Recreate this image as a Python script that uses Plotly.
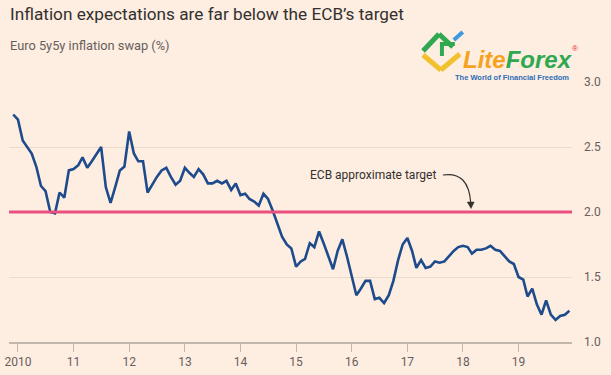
import plotly.graph_objects as go
import pandas as pd

# ---- data (monthly, Dec 2009 - Dec 2019) ----
start_month = "2009-12-01"
swap_values = [
    2.75, 2.71, 2.55, 2.50, 2.45, 2.35, 2.20, 2.16, 2.00, 1.99, 2.15, 2.11,
    2.32, 2.33, 2.36, 2.42, 2.34, 2.39, 2.45, 2.50, 2.19, 2.07, 2.19, 2.32,
    2.35, 2.62, 2.45, 2.39, 2.39, 2.15, 2.21, 2.27, 2.32, 2.34, 2.27, 2.21,
    2.24, 2.34, 2.30, 2.27, 2.33, 2.29, 2.22, 2.22, 2.24, 2.22, 2.24, 2.17,
    2.22, 2.13, 2.14, 2.10, 2.08, 2.05, 2.14, 2.10, 2.01, 1.91, 1.81, 1.75,
    1.72, 1.58, 1.62, 1.64, 1.76, 1.73, 1.85, 1.76, 1.66, 1.56, 1.70, 1.79,
    1.66, 1.50, 1.36, 1.41, 1.47, 1.47, 1.33, 1.34, 1.30, 1.36, 1.47, 1.63,
    1.75, 1.80, 1.70, 1.57, 1.63, 1.57, 1.58, 1.62, 1.61, 1.62, 1.66, 1.70,
    1.73, 1.74, 1.73, 1.68, 1.71, 1.71, 1.72, 1.74, 1.71, 1.70, 1.66, 1.62,
    1.60, 1.50, 1.48, 1.35, 1.41, 1.29, 1.21, 1.32, 1.21, 1.17, 1.20, 1.21,
    1.24,
]
dates = pd.date_range(start_month, periods=len(swap_values), freq="MS")

tick_dates = ["2010-01-01", "2011-01-01", "2012-01-01", "2013-01-01", "2014-01-01",
              "2015-01-01", "2016-01-01", "2017-01-01", "2018-01-01", "2019-01-01"]
tick_labels = ["2010", "11", "12", "13", "14", "15", "16", "17", "18", "19"]
y_ticks = [1.0, 1.5, 2.0, 2.5, 3.0]
target_value = 2.0

title_text = "Inflation expectations are far below the ECB\u2019s target"
subtitle_text = "Euro 5y5y inflation swap (%)"
annotation_text = "ECB approximate target"

# ---- geometry helpers (pixel -> paper) ----
W, H = 611, 375
L, R, T, B = 5, 572, 82, 342


def px(x):
    return (x - L) / (R - L)


def py(y):
    return (B - y) / (B - T)


BG = "#FEEDE1"
fig = go.Figure()
fig.add_trace(go.Scatter(
    x=dates, y=swap_values, mode="lines",
    line=dict(color="#1D4B8B", width=2.6), hoverinfo="skip", showlegend=False,
))

shapes = [
    dict(type="line", xref="paper", yref="y", x0=0, x1=1, y0=target_value, y1=target_value,
         line=dict(color="#E9507F", width=3), layer="above"),
    # curved arrow
    dict(type="path", xref="paper", yref="paper",
         path=f"M {px(442)} {py(175)} Q {px(468)} {py(171)} {px(470)} {py(203)}",
         line=dict(color="#33302E", width=1.2)),
    dict(type="path", xref="paper", yref="paper",
         path=f"M {px(466.5)} {py(202)} L {px(473.5)} {py(202)} L {px(470.3)} {py(208.5)} Z",
         fillcolor="#33302E", line=dict(color="#33302E", width=0.5)),
    # logo icon
    dict(type="line", xref="paper", yref="paper", x0=px(422), y0=py(55), x1=px(440), y1=py(70),
         line=dict(color="#F2C12E", width=5)),
    dict(type="line", xref="paper", yref="paper", x0=px(440), y0=py(70), x1=px(459), y1=py(54),
         line=dict(color="#F2C12E", width=5)),
    dict(type="line", xref="paper", yref="paper", x0=px(422), y0=py(51), x1=px(438), y1=py(34),
         line=dict(color="#2FA84F", width=5)),
    dict(type="line", xref="paper", yref="paper", x0=px(438), y0=py(34), x1=px(452), y1=py(47),
         line=dict(color="#2FA84F", width=5)),
    dict(type="line", xref="paper", yref="paper", x0=px(441), y0=py(56), x1=px(441), y1=py(42),
         line=dict(color="#2FA84F", width=4)),
    dict(type="line", xref="paper", yref="paper", x0=px(441), y0=py(44), x1=px(454), y1=py(44),
         line=dict(color="#2FA84F", width=4)),
    dict(type="line", xref="paper", yref="paper", x0=px(453), y0=py(40), x1=px(462), y1=py(32),
         line=dict(color="#3B9BE0", width=4)),
]

annotations = [
    dict(text=title_text, xref="paper", yref="paper", x=px(4), y=py(14),
         xanchor="left", yanchor="middle", showarrow=False,
         font=dict(family="Roboto", size=17.2, color="#33302E")),
    dict(text=subtitle_text, xref="paper", yref="paper", x=px(4), y=py(45),
         xanchor="left", yanchor="middle", showarrow=False,
         font=dict(family="Roboto", size=12.8, color="#66605C")),
    dict(text=annotation_text, xref="paper", yref="paper", x=px(437), y=py(175),
         xanchor="right", yanchor="middle", showarrow=False,
         font=dict(family="Roboto", size=12, color="#33302E")),
    # logo text
    dict(text="<i><b><span style='color:#F5A21E'>Lite</span><span style='color:#2FA84F'>Forex</span></b></i>",
         xref="paper", yref="paper", x=px(460), y=py(59), xanchor="left", yanchor="middle",
         showarrow=False, font=dict(family="Liberation Sans", size=24)),
    dict(text="\u00ae", xref="paper", yref="paper", x=px(575), y=py(48), xanchor="center",
         yanchor="middle", showarrow=False, font=dict(family="Liberation Sans", size=8, color="#E0303A")),
    dict(text="<b>The World of Financial Freedom</b>", xref="paper", yref="paper", x=px(512),
         y=py(77), xanchor="center", yanchor="middle", showarrow=False,
         font=dict(family="Liberation Sans", size=7.5, color="#2C6DB8")),
]

fig.update_layout(
    width=W, height=H,
    margin=dict(l=L, r=W - R, t=T, b=H - B, pad=0),
    paper_bgcolor=BG, plot_bgcolor=BG,
    shapes=shapes, annotations=annotations,
    showlegend=False,
    xaxis=dict(
        range=["2009-11-03", "2019-12-18"],
        tickvals=tick_dates, ticktext=tick_labels,
        showgrid=False, zeroline=False,
        showline=True, linecolor="#C2B7AD", linewidth=1.5,
        ticks="outside", ticklen=8, tickcolor="#C2B7AD", tickwidth=1.2,
        tickfont=dict(family="Roboto", size=12, color="#66605C"),
        fixedrange=True,
    ),
    yaxis=dict(
        range=[1.0, 3.0], side="right",
        tickvals=y_ticks, ticktext=[f"{v:.1f}" for v in y_ticks],
        showgrid=True, gridcolor="#EADBCD", gridwidth=1,
        zeroline=False, showline=False, ticks="",
        ticklabelstandoff=11,
        tickfont=dict(family="Roboto", size=12, color="#66605C"),
        fixedrange=True,
    ),
)

fig.write_html("out.html", config={"displayModeBar": False},
               post_script="document.body.style.margin='0';document.body.style.background='" + BG + "';")
